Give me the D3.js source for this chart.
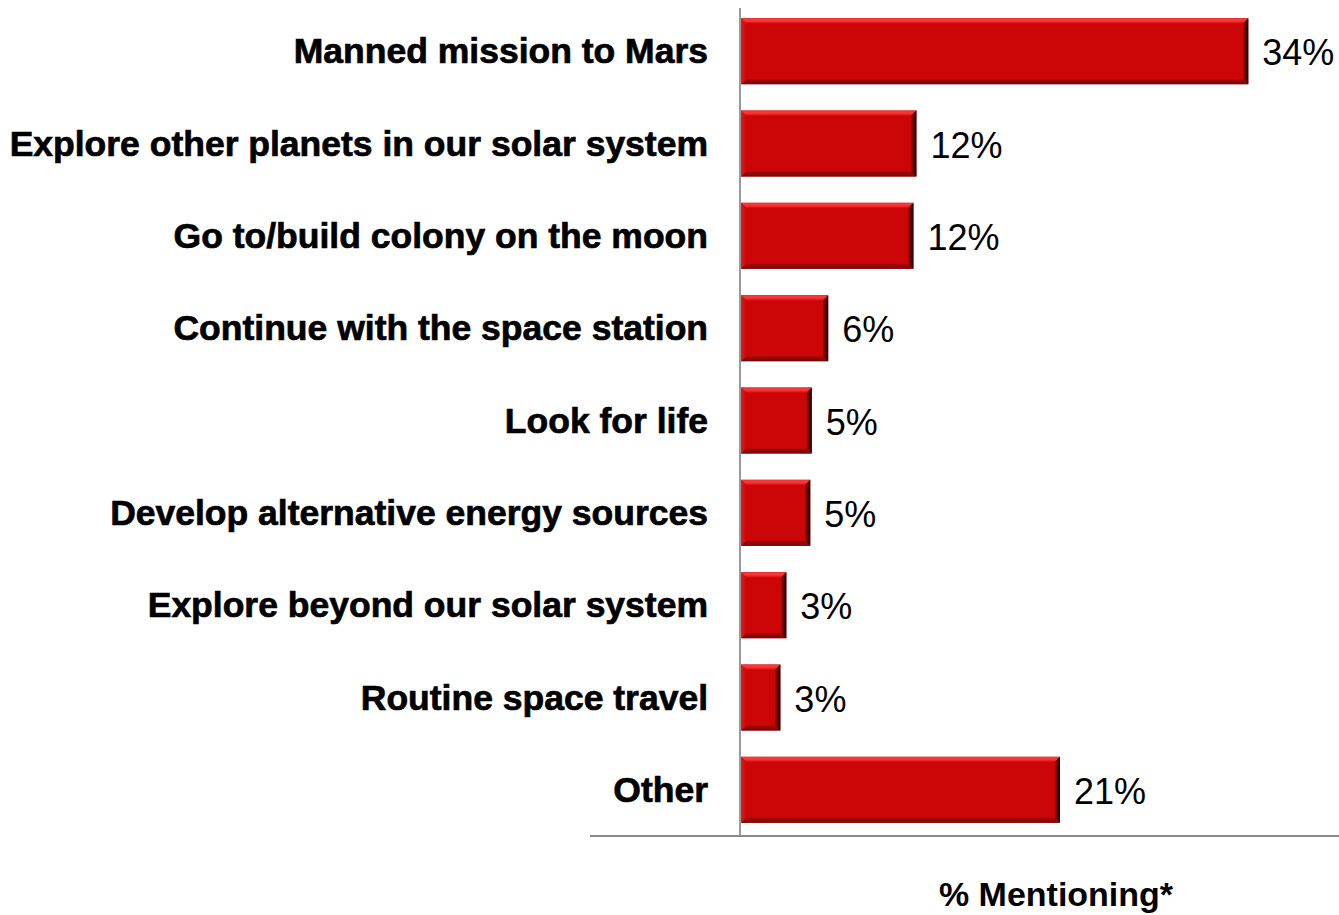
<!DOCTYPE html>
<html>
<head>
<meta charset="utf-8">
<script src="https://cdn.jsdelivr.net/npm/d3@7"></script>
<style>
  html, body { margin: 0; padding: 0; background: #ffffff; }
  svg { display: block; }
</style>
</head>
<body>
<svg id="chart" width="1339" height="915"></svg>
<script>
// ---- data ----
const categories = [
  "Manned mission to Mars",
  "Explore other planets in our solar system",
  "Go to/build colony on the moon",
  "Continue with the space station",
  "Look for life",
  "Develop alternative energy sources",
  "Explore beyond our solar system",
  "Routine space travel",
  "Other"
];
const values = [34, 11.8, 11.6, 5.9, 4.8, 4.7, 3.1, 2.7, 21.4];
const valueLabels = ["34%", "12%", "12%", "6%", "5%", "5%", "3%", "3%", "21%"];
const axisTitle = "% Mentioning*";

// ---- layout ----
const svg = d3.select("#chart");
const x0 = 740, xMax = 1338;
const yTop = 5, yBottom = 836;

const x = d3.scaleLinear().domain([0, 40]).range([x0, xMax]);
const y = d3.scaleBand().domain(categories).range([yTop, yBottom])
  .paddingInner(0.285).paddingOuter(0.1425);

const defs = svg.append("defs");
const gTop = defs.append("linearGradient").attr("id", "gTop").attr("x1", 0).attr("y1", 0).attr("x2", 0).attr("y2", 1);
gTop.append("stop").attr("offset", "0%").attr("stop-color", "#e83a3a");
gTop.append("stop").attr("offset", "50%").attr("stop-color", "#ff3535");
gTop.append("stop").attr("offset", "100%").attr("stop-color", "#dc1212");
const gBot = defs.append("linearGradient").attr("id", "gBot").attr("x1", 0).attr("y1", 0).attr("x2", 0).attr("y2", 1);
gBot.append("stop").attr("offset", "0%").attr("stop-color", "#a80808");
gBot.append("stop").attr("offset", "100%").attr("stop-color", "#6e0a0a");
const gRight = defs.append("linearGradient").attr("id", "gRight").attr("x1", 0).attr("y1", 0).attr("x2", 1).attr("y2", 0);
gRight.append("stop").attr("offset", "0%").attr("stop-color", "#9a0505");
gRight.append("stop").attr("offset", "100%").attr("stop-color", "#1a0000");
const gLeft = defs.append("linearGradient").attr("id", "gLeft").attr("x1", 0).attr("y1", 0).attr("x2", 1).attr("y2", 0);
gLeft.append("stop").attr("offset", "0%").attr("stop-color", "#d42020");
gLeft.append("stop").attr("offset", "100%").attr("stop-color", "#cc0606");

// vertical axis line
svg.append("line")
  .attr("x1", x(0)).attr("x2", x(0))
  .attr("y1", 8).attr("y2", yBottom)
  .attr("stroke", "#9a9a9a").attr("stroke-width", 2);

// horizontal axis line
svg.append("line")
  .attr("x1", 590).attr("x2", 1339)
  .attr("y1", yBottom).attr("y2", yBottom)
  .attr("stroke", "#8a8a8a").attr("stroke-width", 2);

// bars with bevel
const bw = 5;
const bars = svg.append("g").selectAll("g.bar")
  .data(categories.map((c, i) => ({ c, v: values[i], lab: valueLabels[i] })))
  .join("g").attr("class", "bar");

bars.each(function(d) {
  const g = d3.select(this);
  const xl = x(0) + 1, xr = x(d.v), yt = y(d.c), yb = y(d.c) + y.bandwidth();
  const b = Math.min(bw, (xr - xl) / 3);
  g.append("rect").attr("x", xl).attr("y", yt).attr("width", xr - xl).attr("height", yb - yt)
    .attr("fill", "#cc0606");
  g.append("polygon").attr("points", [[xl, yt], [xr, yt], [xr - b, yt + b], [xl + b, yt + b]].join(" "))
    .attr("fill", "url(#gTop)");
  g.append("polygon").attr("points", [[xl, yb], [xr, yb], [xr - b, yb - b], [xl + b, yb - b]].join(" "))
    .attr("fill", "url(#gBot)");
  g.append("polygon").attr("points", [[xl, yt], [xl + b, yt + b], [xl + b, yb - b], [xl, yb]].join(" "))
    .attr("fill", "url(#gLeft)");
  g.append("polygon").attr("points", [[xr, yt], [xr - b, yt + b], [xr - b, yb - b], [xr, yb]].join(" "))
    .attr("fill", "url(#gRight)");
});

// value labels
bars.append("text")
  .attr("x", d => x(d.v) + 14)
  .attr("y", d => y(d.c) + y.bandwidth() / 2 + 14)
  .attr("font-family", "'Liberation Sans', Arial, sans-serif")
  .attr("font-size", 36)
  .attr("fill", "#000")
  .text(d => d.lab);

// category labels
svg.append("g").selectAll("text.cat")
  .data(categories)
  .join("text").attr("class", "cat")
  .attr("x", 708)
  .attr("y", d => y(d) + y.bandwidth() / 2 + 12)
  .attr("text-anchor", "end")
  .attr("font-family", "'Liberation Sans', Arial, sans-serif")
  .attr("font-weight", "bold")
  .attr("font-size", 35.5)
  .attr("fill", "#000")
  .attr("stroke", "#000").attr("stroke-width", 0.7)
  .text(d => d);

// axis title
svg.append("text")
  .attr("x", 1056).attr("y", 906)
  .attr("text-anchor", "middle")
  .attr("font-family", "'Liberation Sans', Arial, sans-serif")
  .attr("font-weight", "bold")
  .attr("font-size", 34)
  .attr("fill", "#000")
  .text(axisTitle);
</script>
</body>
</html>
